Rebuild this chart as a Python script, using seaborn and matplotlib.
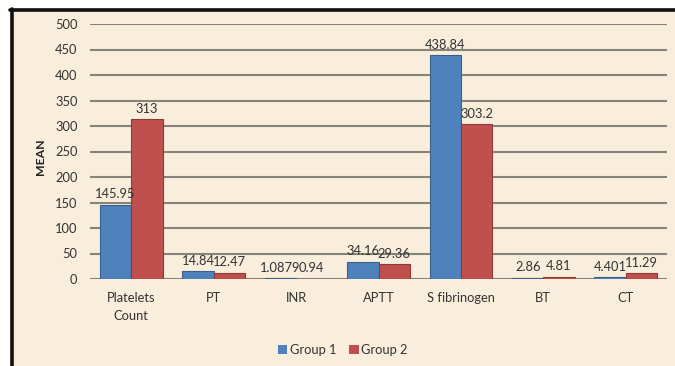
import matplotlib
matplotlib.use("Agg")
import matplotlib.pyplot as plt
import seaborn as sns
import pandas as pd
from matplotlib.patches import Rectangle
from matplotlib.lines import Line2D

categories = ["Platelets\nCount", "PT", "INR", "APTT", "S fibrinogen", "BT", "CT"]
group1 = [145.95, 14.84, 1.0879, 34.16, 438.84, 2.86, 4.401]
group2 = [313, 12.47, 0.94, 29.36, 303.2, 4.81, 11.29]
group1_labels = ["145.95", "14.84", "1.0879", "34.16", "438.84", "2.86", "4.401"]
group2_labels = ["313", "12.47", "0.94", "29.36", "303.2", "4.81", "11.29"]
series = ["Group 1", "Group 2"]
yticks = [0, 50, 100, 150, 200, 250, 300, 350, 400, 450, 500]

df = pd.DataFrame({
    "cat": categories * 2,
    "val": group1 + group2,
    "grp": [series[0]] * len(categories) + [series[1]] * len(categories),
})

sns.set_style("white")
plt.rcParams["font.family"] = ["Lato", "DejaVu Sans"]

bg = "#f8eedb"
fs = 9.3
fig = plt.figure(figsize=(6.75, 3.66), dpi=100)
fig.patch.set_facecolor("white")
fig.patches.append(Rectangle((10/675, 0), 1, 1 - 8/366, transform=fig.transFigure,
                             facecolor=bg, edgecolor="none", zorder=-10))
fig.lines.append(Line2D([11.5/675, 11.5/675], [0, 1 - 9/366], transform=fig.transFigure,
                        color="#111111", lw=2.6))
fig.lines.append(Line2D([10/675, 1], [1 - 9.5/366, 1 - 9.5/366], transform=fig.transFigure,
                        color="#111111", lw=2.6))

ax = fig.add_axes([90/675, 87/366, (667-90)/675, (342-87)/366])
ax.set_facecolor("none")

palette = {"Group 1": "#4f81bd", "Group 2": "#c0504d"}
sns.barplot(data=df, x="cat", y="val", hue="grp", palette=palette, ax=ax,
            width=0.76, dodge=True, edgecolor=None, linewidth=0, saturation=1,
            legend=True)

edge = {"Group 1": "#3a5f8c", "Group 2": "#8e3a38"}
for cont, name, labs in zip(ax.containers, series, [group1_labels, group2_labels]):
    for p in cont:
        p.set_edgecolor(edge[name])
        p.set_linewidth(0.8)
    ax.bar_label(cont, labels=labs, padding=3, fontsize=fs, color="#333333")

ax.set_ylim(0, 500)
ax.set_xlim(-0.5, len(categories) - 0.5)
ax.set_yticks(yticks)
ax.yaxis.grid(True, color="#85837a", lw=1.5)
ax.set_axisbelow(True)
for s in ax.spines.values():
    s.set_visible(False)
ax.axhline(0, color="#6e6c66", lw=1.8, zorder=0.5)
ax.tick_params(axis="y", length=0, labelsize=fs, labelcolor="#333333", pad=9)
ax.tick_params(axis="x", length=0, labelsize=fs, labelcolor="#333333", pad=9)
for t in ax.get_xticklabels():
    t.set_linespacing(1.6)
ax.set_xlabel("")
ax.set_ylabel("MEAN", fontsize=fs - 0.5, fontweight="bold", color="#222222")
ax.yaxis.set_label_coords(-44/577, 0.48)

leg = ax.legend(loc="center", bbox_to_anchor=(343/675, 16/366),
                bbox_transform=fig.transFigure, ncol=2, frameon=False,
                fontsize=fs, handlelength=0.7, handleheight=0.7,
                handletextpad=0.2, columnspacing=1.0)
for t in leg.get_texts():
    t.set_color("#333333")

fig.savefig("out.png", dpi=100, facecolor=fig.get_facecolor())
